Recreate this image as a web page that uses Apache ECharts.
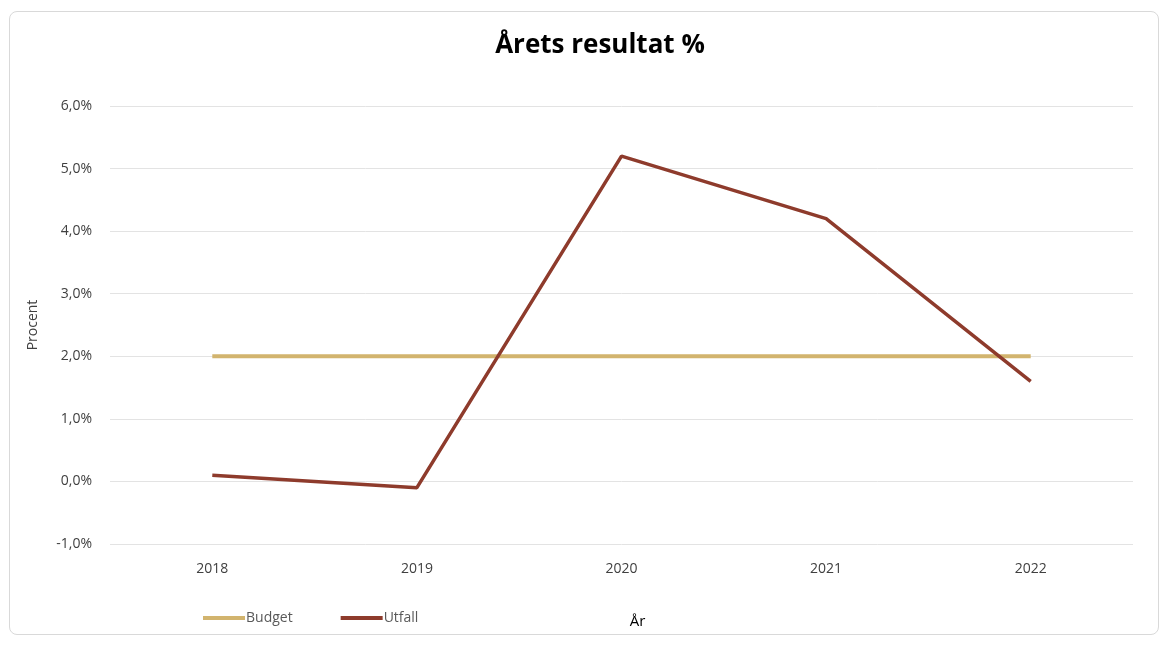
<!DOCTYPE html>
<html>
<head>
<meta charset="utf-8">
<script src="https://cdn.jsdelivr.net/npm/echarts@6/dist/echarts.min.js"></script>
<style>
  html, body { margin: 0; padding: 0; background: #fff; }
  #frame {
    position: absolute; left: 9px; top: 11px; width: 1150px; height: 624px;
    border: 1px solid #d9d9d9; border-radius: 8px; box-sizing: border-box;
  }
  #chart { position: absolute; left: 0; top: 0; width: 1169px; height: 646px; }
</style>
</head>
<body>
<div id="frame"></div>
<div id="chart"></div>
<script>
const years = ['2018', '2019', '2020', '2021', '2022'];
const budget = [2.0, 2.0, 2.0, 2.0, 2.0];
const utfall = [0.1, -0.1, 5.2, 4.2, 1.6];
const yTicks = { min: -1, max: 6, step: 1 };

const font = '"Open Sans", "Noto Sans", sans-serif';
const chart = echarts.init(document.getElementById('chart'));

chart.setOption({
  animation: false,
  title: {
    text: 'Årets resultat %',
    left: 595,
    textAlign: 'center',
    top: 28,
    textStyle: { fontFamily: font, fontSize: 26, fontWeight: 'bold', color: '#000' }
  },
  legend: {
    data: ['Budget', 'Utfall'],
    left: 198,
    top: 606,
    itemWidth: 42,
    itemHeight: 4,
    itemGap: 48,
    icon: 'rect',
    textStyle: { fontFamily: font, fontSize: 14, color: '#595959', padding: [0, 0, 0, -4] }
  },
  grid: { left: 110, right: 36, top: 106, bottom: 102 },
  xAxis: {
    type: 'category',
    data: years,
    boundaryGap: true,
    name: 'År',
    nameLocation: 'middle',
    nameGap: 70,
    nameTextStyle: { fontFamily: font, fontSize: 15, color: '#000', padding: [0, 0, 0, 32] },
    axisLine: { show: false },
    axisTick: { show: false },
    axisLabel: { fontFamily: font, fontSize: 14, color: '#404040', margin: 18 }
  },
  yAxis: {
    type: 'value',
    min: yTicks.min,
    max: yTicks.max,
    interval: yTicks.step,
    name: 'Procent',
    nameLocation: 'middle',
    nameGap: 70,
    nameTextStyle: { fontFamily: font, fontSize: 14, color: '#404040' },
    axisLine: { show: false },
    axisTick: { show: false },
    axisLabel: {
      fontFamily: font, fontSize: 14, color: '#404040', margin: 18,
      formatter: v => v.toFixed(1).replace('.', ',') + '%'
    },
    splitLine: { lineStyle: { color: '#e3e3e3', width: 1 } }
  },
  series: [
    {
      name: 'Budget',
      type: 'line',
      data: budget,
      symbol: 'none',
      itemStyle: { color: '#d2b46e' },
      lineStyle: { color: '#d2b46e', width: 4 }
    },
    {
      name: 'Utfall',
      type: 'line',
      data: utfall,
      symbol: 'none',
      itemStyle: { color: '#8e3b2c' },
      lineStyle: { color: '#8e3b2c', width: 3.5 }
    }
  ]
});
</script>
</body>
</html>
